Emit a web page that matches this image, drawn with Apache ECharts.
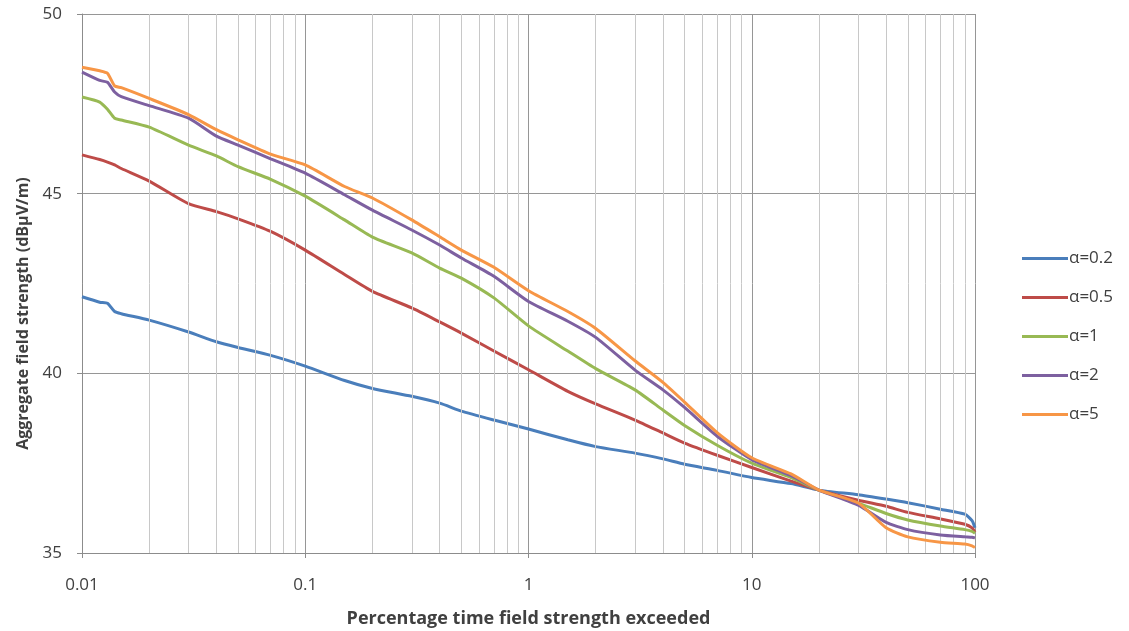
<!DOCTYPE html>
<html>
<head>
<meta charset="utf-8">
<script src="https://cdn.jsdelivr.net/npm/echarts@6/dist/echarts.min.js"></script>
<style>html,body{margin:0;padding:0;background:#fff;}#c{width:1129px;height:631px;}</style>
</head>
<body>
<div id="c"></div>
<script>
const xValues = [0.01,0.012,0.013,0.014,0.015,0.02,0.03,0.04,0.05,0.07,0.1,0.15,0.2,0.3,0.4,0.5,0.7,1,1.5,2,3,4,5,7,10,15,20,30,40,50,70,90,97,100];
const alpha02 = [42.13,41.98,41.95,41.72,41.66,41.48,41.15,40.88,40.72,40.5,40.2,39.8,39.58,39.36,39.17,38.95,38.7,38.45,38.15,37.96,37.78,37.62,37.47,37.3,37.1,36.93,36.75,36.62,36.5,36.4,36.22,36.08,35.9,35.7];
const alpha05 = [46.08,45.95,45.88,45.8,45.7,45.35,44.72,44.5,44.3,43.95,43.43,42.75,42.28,41.82,41.43,41.12,40.62,40.1,39.5,39.15,38.7,38.34,38.06,37.72,37.38,37.0,36.75,36.47,36.3,36.13,35.95,35.8,35.7,35.58];
const alpha1 = [47.69,47.55,47.35,47.1,47.05,46.85,46.35,46.05,45.75,45.4,44.93,44.27,43.79,43.35,42.93,42.65,42.1,41.32,40.62,40.13,39.54,38.98,38.55,38.0,37.5,37.1,36.75,36.39,36.1,35.92,35.75,35.65,35.6,35.55];
const alpha2 = [48.38,48.15,48.1,47.83,47.7,47.45,47.1,46.6,46.35,45.97,45.57,44.97,44.54,43.99,43.57,43.21,42.7,42.0,41.45,41.0,40.09,39.54,39.05,38.25,37.6,37.15,36.75,36.33,35.85,35.65,35.5,35.45,35.44,35.42];
const alpha5 = [48.52,48.42,48.35,48.0,47.95,47.65,47.2,46.78,46.5,46.1,45.8,45.2,44.88,44.27,43.8,43.43,42.95,42.3,41.72,41.25,40.35,39.75,39.2,38.35,37.65,37.2,36.75,36.39,35.7,35.45,35.3,35.25,35.2,35.15];
const seriesNames = ['α=0.2','α=0.5','α=1','α=2','α=5'];
const minorGridX = [0.02,0.03,0.04,0.05,0.06,0.07,0.08,0.09,0.2,0.3,0.4,0.5,0.6,0.7,0.8,0.9,2,3,4,5,6,7,8,9,20,30,40,50,60,70,80,90];
const yTicks = [35,40,45,50];

const colors = ['#4A7EBB','#BE4B48','#98B954','#7D60A0','#F79646'];
const allY = [alpha02, alpha05, alpha1, alpha2, alpha5];
const FONT = '"Open Sans"';

const series = allY.map((ys, i) => ({
  name: seriesNames[i],
  type: 'line',
  data: xValues.map((x, j) => [x, ys[j]]),
  showSymbol: false,
  smooth: 0.2,
  lineStyle: { width: 3, color: colors[i] },
  itemStyle: { color: colors[i] },
  z: 3 + i
}));
series.unshift({
  name: 'minorgrid',
  type: 'line',
  data: [],
  silent: true,
  z: 1,
  markLine: {
    silent: true,
    symbol: ['none','none'],
    label: { show: false },
    animation: false,
    lineStyle: { color: '#c8c8c8', width: 1, type: 'solid' },
    data: minorGridX.map(v => ({ xAxis: v }))
  }
});

const chart = echarts.init(document.getElementById('c'), null, { renderer: 'canvas' });
chart.setOption({
  animation: false,
  backgroundColor: '#fff',
  textStyle: { fontFamily: FONT },
  grid: { left: 82, right: 154, top: 14, bottom: 78, containLabel: false, outerBoundsMode: 'none' },
  legend: {
    orient: 'vertical',
    left: 1017,
    top: 245,
    itemWidth: 46,
    itemHeight: 3,
    itemGap: 22,
    icon: 'rect',
    data: seriesNames,
    textStyle: { fontFamily: FONT, fontSize: 17, color: '#404040', padding: [0,0,0,-4] }
  },
  xAxis: {
    type: 'log',
    logBase: 10,
    min: 0.01,
    max: 100,
    name: 'Percentage time field strength exceeded',
    nameLocation: 'middle',
    nameGap: 57,
    nameTextStyle: { fontFamily: FONT, fontWeight: 'bold', fontSize: 18, color: '#404040' },
    axisLine: { show: true, lineStyle: { color: '#8c8c8c', width: 1 } },
    axisTick: { show: true, length: 5, lineStyle: { color: '#8c8c8c' } },
    axisLabel: { fontFamily: FONT, fontSize: 17, color: '#404040', margin: 24,
      formatter: v => String(+v.toPrecision(3)) },
    splitLine: { show: true, lineStyle: { color: '#969696', width: 1 } }
  },
  yAxis: {
    type: 'value',
    min: 35,
    max: 50,
    interval: 5,
    name: 'Aggregate field strength (dBµV/m)',
    nameLocation: 'middle',
    nameGap: 50,
    nameTextStyle: { fontFamily: FONT, fontWeight: 'bold', fontSize: 16, color: '#404040', padding: [0, 60, 0, 0] },
    axisLine: { show: true, lineStyle: { color: '#8c8c8c', width: 1 } },
    axisTick: { show: true, length: 5, lineStyle: { color: '#8c8c8c' } },
    axisLabel: { fontFamily: FONT, fontSize: 17, color: '#404040', margin: 20,
      formatter: v => yTicks.includes(v) ? String(v) : '' },
    splitLine: { show: true, lineStyle: { color: '#969696', width: 1 } }
  },
  series: series
});
</script>
</body>
</html>
